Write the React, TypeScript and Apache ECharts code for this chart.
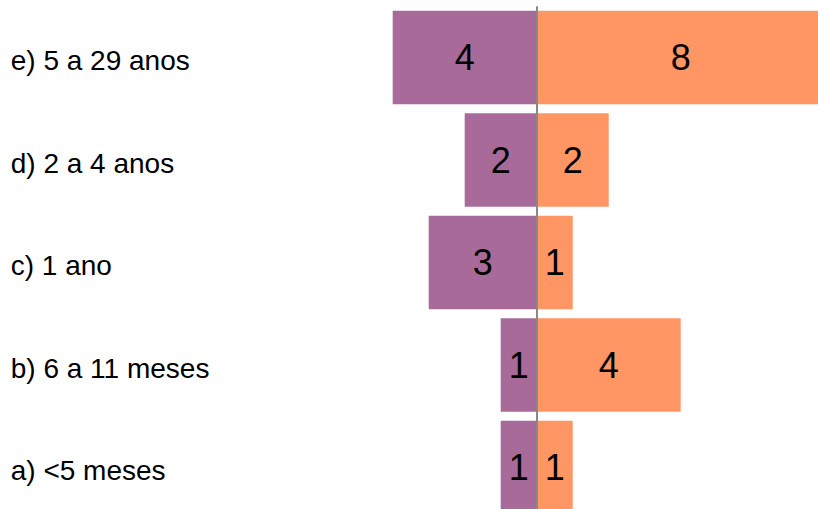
import React, { useEffect, useRef } from "react";
import * as echarts from "echarts";

const categories = ["a) <5 meses", "b) 6 a 11 meses", "c) 1 ano", "d) 2 a 4 anos", "e) 5 a 29 anos"];
const leftValues = [1, 1, 3, 2, 4];
const rightValues = [1, 4, 1, 2, 8];

const FONT = "'Liberation Sans', Arial, sans-serif";

export default function App() {
  const ref = useRef<HTMLDivElement>(null);
  useEffect(() => {
    if (!ref.current) return;
    const chart = echarts.init(ref.current, null, { renderer: "svg" });
    const numLabel = {
      show: true,
      position: "inside",
      color: "#000",
      fontSize: 36,
      fontFamily: FONT,
      formatter: (p: any) => String(Math.abs(p.value)),
    };
    chart.setOption({
      animation: false,
      grid: {
        left: 392.7,
        width: 432,
        top: 6.25,
        height: 512.5,
        containLabel: false,
        outerBoundsMode: "none",
      },
      xAxis: {
        type: "value",
        min: -4,
        max: 8,
        show: false,
      },
      yAxis: {
        type: "category",
        data: categories,
        axisLine: { show: false },
        axisTick: { show: false },
        splitLine: { show: false },
        axisLabel: {
          align: "left",
          margin: 382,
          color: "#000",
          formatter: (v: string) => "{t|" + v + "}",
          rich: {
            t: {
              fontSize: 28,
              color: "#000",
              fontFamily: FONT,
              padding: [6, 0, 0, 0],
            },
          },
        },
      },
      series: [
        {
          type: "bar",
          stack: "t",
          data: leftValues.map((v) => -v),
          itemStyle: { color: "#A86B99" },
          barCategoryGap: "9%",
          label: numLabel,
          markLine: {
            silent: true,
            symbol: "none",
            label: { show: false },
            lineStyle: { color: "#888888", width: 2, type: "solid" },
            data: [{ xAxis: 0 }],
          },
        },
        {
          type: "bar",
          stack: "t",
          data: rightValues,
          itemStyle: { color: "#FF9664" },
          barCategoryGap: "9%",
          label: numLabel,
          z: 1,
        },
      ],
    });
    return () => chart.dispose();
  }, []);
  return (
    <div
      ref={ref}
      style={{ position: "absolute", left: 0, top: 0, width: 818, height: 509 }}
    />
  );
}
